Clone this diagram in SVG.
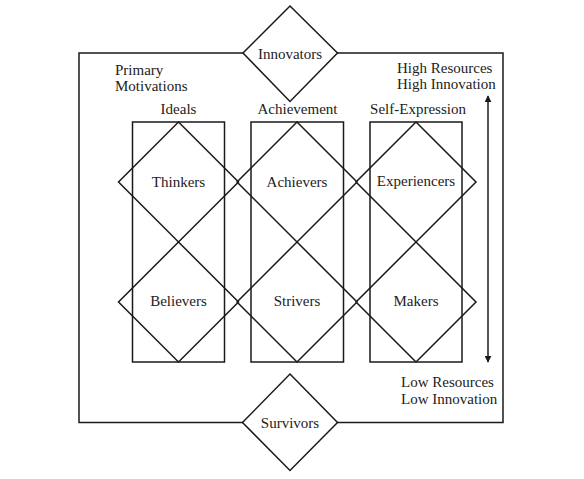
<svg xmlns="http://www.w3.org/2000/svg" width="584" height="479" viewBox="0 0 584 479">
<style>
.ln{fill:none;stroke:#1a1a1a;stroke-width:1.5}
.wd{fill:#fff;stroke:#1a1a1a;stroke-width:1.5}
text{font-family:"Liberation Serif","Times New Roman",serif;font-size:15px;fill:#222}
.c{text-anchor:middle}
</style>
<defs>
<marker id="ah" viewBox="0 0 10 10" refX="9" refY="5" markerWidth="7" markerHeight="7" orient="auto-start-reverse" markerUnits="userSpaceOnUse">
<path d="M0,0 L10,5 L0,10 z" fill="#1a1a1a"/>
</marker>
</defs>
<rect id="frame" class="ln" x="79" y="53" width="424" height="369.5"/>
<g id="innovators"><polygon class="wd" points="290,6 337.5,53 290,101.5 243,53"/><text class="c" x="290" y="58.5">Innovators</text></g>
<g id="survivors"><polygon class="wd" points="290,374 337.5,422.5 290,470.5 242.5,422.5"/><text class="c" x="290" y="427.5">Survivors</text></g>
<g id="primary"><text x="115" y="75">Primary</text><text x="115" y="91">Motivations</text></g>
<g id="high"><text x="397" y="72.5">High Resources</text><text x="397" y="89">High Innovation</text></g>
<g id="low"><text x="401" y="387">Low Resources</text><text x="401" y="403.5">Low Innovation</text></g>
<g id="col-ideals"><rect class="ln" x="132.5" y="122" width="92" height="240"/><text class="c" x="178.5" y="113.5">Ideals</text></g>
<g id="col-achievement"><rect class="ln" x="251" y="122" width="92.5" height="240"/><text class="c" x="297.5" y="113.5">Achievement</text></g>
<g id="col-selfexpression"><rect class="ln" x="370" y="122" width="92" height="240"/><text class="c" x="418" y="113.5">Self-Expression</text></g>
<g id="thinkers"><polygon class="ln" points="178.5,122 238.5,182 178.5,242 118.5,182"/><text class="c" x="178.5" y="186.5">Thinkers</text></g>
<g id="achievers"><polygon class="ln" points="297,122 357,182 297,242 237,182"/><text class="c" x="297" y="186.5">Achievers</text></g>
<g id="experiencers"><polygon class="ln" points="416,122 476,182 416,242 356,182"/><text class="c" x="416" y="185.5">Experiencers</text></g>
<g id="believers"><polygon class="ln" points="178.5,242 238.5,302 178.5,362 118.5,302"/><text class="c" x="178.5" y="305.5">Believers</text></g>
<g id="strivers"><polygon class="ln" points="297,242 357,302 297,362 237,302"/><text class="c" x="297" y="305.5">Strivers</text></g>
<g id="makers"><polygon class="ln" points="416,242 476,302 416,362 356,302"/><text class="c" x="416" y="305.5">Makers</text></g>
<g id="connectors"><line class="ln" x1="488" y1="96" x2="488" y2="362" marker-start="url(#ah)" marker-end="url(#ah)"/></g>
</svg>
